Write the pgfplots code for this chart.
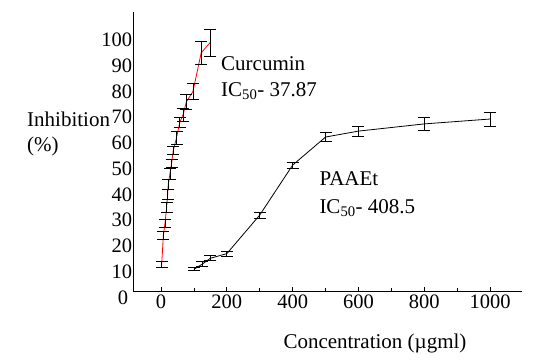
\documentclass[border=0pt]{standalone}
\usepackage{fontspec}
\setmainfont{Liberation Serif}
\usepackage{pgfplots}
\pgfplotsset{compat=1.18}
\begin{document}
\begin{tikzpicture}
\begin{axis}[
  scale only axis,
  width=388.4pt, height=280pt,
  xmin=-84.3, xmax=1096,
  ymin=2.2, ymax=111,
  axis lines*=left,
  axis line style={black, line width=1pt},
  xtick={0,200,400,600,800,1000},
  minor xtick={100,300,500,700,900},
  xtick align=inside,
  major tick length=5pt, minor tick length=4pt,
  x tick style={black, line width=0.8pt},
  ytick={10,20,...,100},
  y tick style={draw=none},
  ticklabel style={font=\fontsize{20.5}{24}\selectfont},
  /pgf/number format/assume math mode=true,
  /pgf/number format/1000 sep={},
  yticklabel style={inner xsep=1pt},
  extra y ticks={2.2}, extra y tick labels={0},
  extra y tick style={yticklabel style={yshift=-6pt, xshift=-4pt}},
  clip=false,
]
% Curcumin
\addplot[red, line width=0.8pt, mark=none,
  error bars/.cd, y dir=both, y explicit,
  error bar style={black, line width=0.8pt},
  error mark options={rotate=90, mark size=6pt, black, line width=0.8pt}]
  table[x=x, y=y, y error=e] {
x y e
2 12.8 1.1
7 24 1.5
12 28.8 1.6
17 35 2
20 40 2
22 44 2
27 48 2
32 52 1.5
37 57 1.5
47 62 2.5
57 68 2
67 71 2.5
77 76 3
97 80 3
122 95 4.3
149 99 5.2
};
% PAAEt
\addplot[black, line width=0.8pt, mark=none,
  error bars/.cd, y dir=both, y explicit,
  error bar style={black, line width=0.8pt},
  error mark options={rotate=90, mark size=6pt, black, line width=0.8pt}]
  table[x=x, y=y, y error=e] {
x y e
100 10.9 0.6
125 12.9 1
150 15.2 1
200 17 1
300 32 1.2
400 51.4 1.2
500 62.3 1.8
600 64.6 2
800 67.4 2.5
1000 69.3 2.7
};
\end{axis}
\begin{scope}[every node/.style={font=\fontsize{21}{25}\selectfont, inner sep=0pt}]
\node[anchor=base west] at (-106.3pt,165pt) {Inhibition};
\node[anchor=base west] at (-106.3pt,140pt) {(\%)};
\node[anchor=base west] at (150pt,-56.6pt) {Concentration (µgml)};
\node[anchor=base west] at (87.7pt,221pt) {Curcumin};
\node[anchor=base west] at (87.7pt,195pt) {IC\textsubscript{50}- 37.87};
\node[anchor=base west] at (186pt,106.7pt) {PAAEt};
\node[anchor=base west] at (186pt,78.4pt) {IC\textsubscript{50}- 408.5};
\end{scope}
\path[use as bounding box] (-133.3pt,-67.3pt) rectangle (400.7pt,291.7pt);
\end{tikzpicture}
\end{document}
